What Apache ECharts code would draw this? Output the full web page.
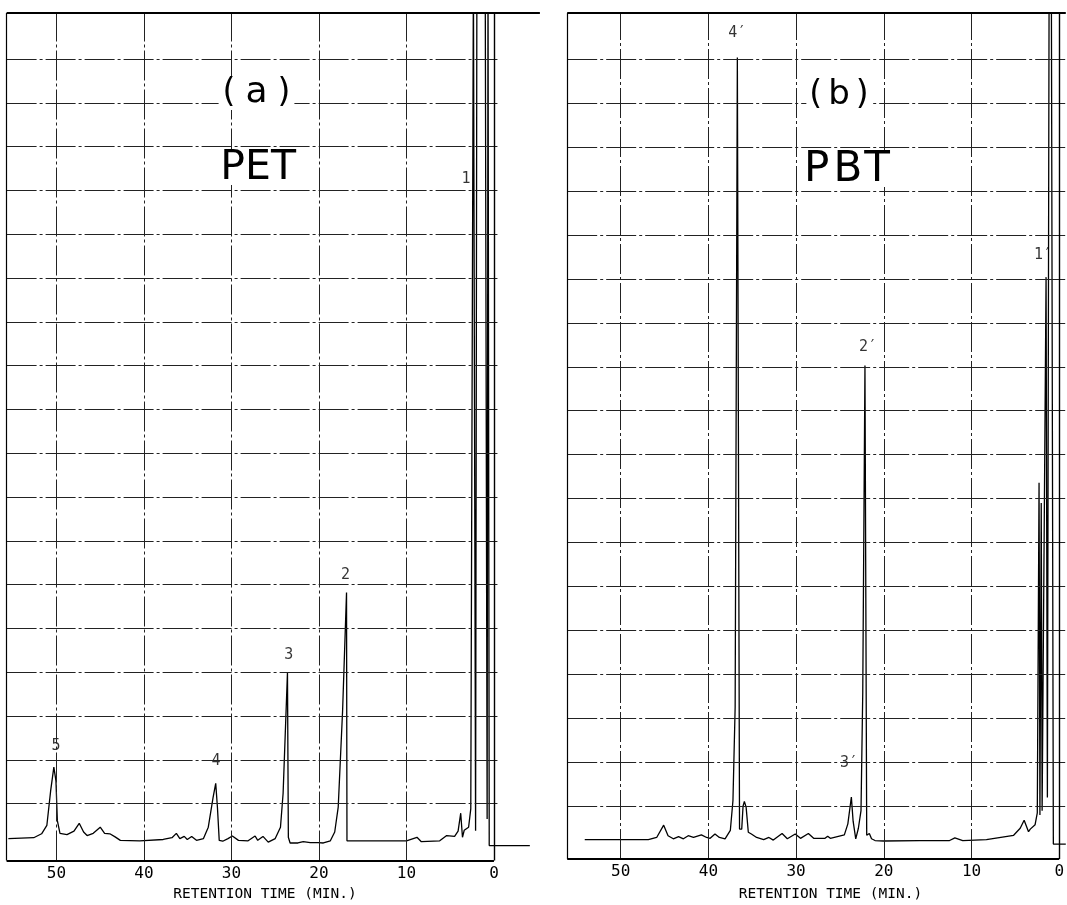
<!DOCTYPE html>
<html><head><meta charset="utf-8">
<script src="https://cdn.jsdelivr.net/npm/echarts@6/dist/echarts.min.js"></script>
<style>html,body{margin:0;padding:0;background:#fff}#c{width:1067px;height:905px}</style>
</head><body><div id="c"></div>
<script>
// ---------- data (retention time in min, detector signal in chart-grid divisions) ----------
const tickLabels = [50, 40, 30, 20, 10, 0];
const gridLevels = [0, 1, 2, 3, 4, 5, 6, 7, 8, 9, 10, 11, 12, 13, 14, 15, 16, 17];

const petTime = [55.5, 52.6, 51.7, 51.1, 50.66, 50.3, 50.06, 49.9, 49.6, 48.8, 48.0, 47.4, 46.9, 46.5, 45.8, 45.0, 44.5, 43.9, 43.3, 42.7, 40.5, 37.8, 36.8, 36.3, 35.9, 35.4, 35.05, 34.55, 34.0, 33.2, 32.65, 32.1, 31.8, 31.6, 31.4, 31.0, 30.4, 29.9, 29.2, 28.1, 27.3, 27.0, 26.4, 25.8, 25.0, 24.4, 24.1, 23.6, 23.5, 23.3, 22.4, 21.8, 21.0, 20.1, 19.5, 18.7, 18.2, 17.8, 17.3, 16.85, 16.8, 16.65, 10.0, 8.8, 8.3, 6.2, 5.4, 4.5, 4.1, 3.8, 3.6, 3.4, 2.9, 2.65, 2.35, 2.1, 1.95, 1.0, 0.78, 0.68, 0.6, 0.54, -4.1];
const petSignal = [-0.80, -0.78, -0.69, -0.50, 0.30, 0.83, 0.52, -0.39, -0.68, -0.71, -0.63, -0.45, -0.65, -0.73, -0.68, -0.54, -0.68, -0.69, -0.76, -0.84, -0.85, -0.82, -0.78, -0.68, -0.80, -0.75, -0.82, -0.75, -0.84, -0.80, -0.54, 0.14, 0.46, -0.10, -0.84, -0.86, -0.80, -0.74, -0.84, -0.85, -0.74, -0.84, -0.75, -0.88, -0.80, -0.54, 0.23, 2.99, -0.77, -0.90, -0.90, -0.87, -0.89, -0.89, -0.90, -0.85, -0.65, -0.08, 2.12, 4.82, -0.85, -0.87, -0.85, -0.77, -0.87, -0.85, -0.73, -0.75, -0.63, -0.22, -0.77, -0.61, -0.54, -0.12, 19, -0.62, 19, 19, -0.35, 19, 19, -0.96, -0.96];

const pbtTime = [54.1, 46.85, 45.9, 45.1, 44.6, 44.0, 43.4, 42.85, 42.3, 41.7, 40.8, 40.2, 39.8, 39.25, 38.75, 38.1, 37.5, 37.2, 36.95, 36.7, 36.45, 36.2, 36.05, 35.9, 35.7, 35.45, 35.1, 34.5, 33.7, 33.1, 32.6, 31.6, 31.0, 30.1, 29.5, 28.6, 28.0, 26.7, 26.4, 26.1, 24.5, 24.1, 23.7, 23.5, 23.2, 22.9, 22.6, 22.4, 22.15, 21.95, 21.65, 21.4, 21.0, 20.0, 15.9, 12.5, 11.9, 11.0, 8.3, 5.2, 4.45, 4.0, 3.5, 3.3, 2.75, 2.5, 2.3, 2.2, 2.05, 1.95, 1.5, 1.35, 1.15, 0.9, 0.67, -0.75];
const pbtSignal = [-0.76, -0.76, -0.71, -0.43, -0.67, -0.74, -0.69, -0.74, -0.67, -0.71, -0.65, -0.71, -0.73, -0.63, -0.71, -0.74, -0.55, 0.13, 2.26, 17.04, -0.52, -0.52, 0.0, 0.11, -0.02, -0.59, -0.63, -0.71, -0.76, -0.71, -0.77, -0.62, -0.74, -0.63, -0.73, -0.62, -0.73, -0.73, -0.68, -0.73, -0.65, -0.40, 0.21, -0.34, -0.74, -0.50, -0.10, 2.6, 10.03, -0.66, -0.62, -0.74, -0.78, -0.79, -0.78, -0.78, -0.72, -0.78, -0.76, -0.66, -0.50, -0.32, -0.58, -0.52, -0.42, -0.15, 7.36, -0.2, 6.9, -0.1, 12.04, 0.2, 19, 19, -0.86, -0.86];

const petPeakNames = ['5', '4', '3', '2', '1'];
const petPeakTime = [50.06, 31.77, 23.45, 16.97, 3.2];
const petPeakLevel = [1.31, 0.96, 3.40, 5.21, 14.26];

const pbtPeakNames = ['4′', '3′', '2′', '1′'];
const pbtPeakTime = [36.7, 23.97, 21.8, 1.85];
const pbtPeakLevel = [17.6, 0.99, 10.45, 12.54];

const axisTitle = 'RETENTION TIME (MIN.)';
const panelNames = ['(a)', '(b)'];
const polymerNames = ['PET', 'PBT'];

// ---------- layout ----------
const panels = [
  { xMin: -5.25, xMax: 55.7, yMin: -1.3, yMax: 18.05, hEnd: -0.4,
    grid: { left: 6.6, right: 527.1, top: 13, bottom: 44.5 },
    time: petTime, signal: petSignal, names: petPeakNames, pt: petPeakTime, pl: petPeakLevel },
  { xMin: -0.75, xMax: 56.1, yMin: -1.2, yMax: 18.05, hEnd: -0.75,
    grid: { left: 567.2, right: 1.2, top: 13, bottom: 46 },
    time: pbtTime, signal: pbtSignal, names: pbtPeakNames, pt: pbtPeakTime, pl: pbtPeakLevel }
];

const gridStyle = { color: '#222', width: 1, type: [30, 3, 3, 3] };
const monoFont = "'DejaVu Sans Mono', 'Liberation Mono', monospace";

const option = {
  animation: false,
  backgroundColor: '#fff',
  grid: panels.map(p => Object.assign({ containLabel: false, outerBoundsMode: 'none' }, p.grid)),
  xAxis: panels.map((p, i) => ({
    gridIndex: i, type: 'value', inverse: true, min: p.xMin, max: p.xMax,
    axisLine: { show: false }, axisTick: { show: false }, splitLine: { show: false },
    axisLabel: {
      customValues: tickLabels, margin: 5, color: '#000', fontFamily: monoFont, fontSize: 16,
      formatter: v => (tickLabels.indexOf(v) >= 0 ? String(v) : '')
    }
  })),
  yAxis: panels.map((p, i) => ({ gridIndex: i, type: 'value', min: p.yMin, max: p.yMax, show: false })),
  series: [],
  graphic: []
};

panels.forEach((p, i) => {
  const hLines = gridLevels.map(l => [{ coord: [p.xMax, l] }, { coord: [p.hEnd, l] }]);
  const vLines = tickLabels.map(t => [
    t === 0 ? { coord: [t, p.yMin], lineStyle: { color: '#000', width: 1.4, type: 'solid' } } : { coord: [t, p.yMin] },
    { coord: [t, p.yMax] }
  ]);
  option.series.push({
    type: 'line', xAxisIndex: i, yAxisIndex: i, data: [[p.xMax, p.yMin]], showSymbol: false, symbolSize: 0,
    lineStyle: { width: 0 }, silent: true, clip: false, z: 1,
    markLine: { silent: true, symbol: ['none', 'none'], label: { show: false }, animation: false,
      lineStyle: gridStyle, data: hLines.concat(vLines) }
  });
  option.series.push({
    type: 'line', xAxisIndex: i, yAxisIndex: i, data: [[p.xMax, p.yMin]], showSymbol: false, symbolSize: 0,
    lineStyle: { width: 0 }, silent: true, clip: false, z: 2,
    markLine: { silent: true, symbol: ['none', 'none'], label: { show: false }, animation: false,
      lineStyle: { color: '#000', width: 2, type: 'solid' },
      data: [
        [{ coord: [p.xMax, p.yMin] }, { coord: [0, p.yMin] }],
        [{ coord: [p.xMax, p.yMin], lineStyle: { color: '#000', width: 1.2, type: 'solid' } }, { coord: [p.xMax, p.yMax] }],
        [{ coord: [p.xMax, p.yMax] }, { coord: [p.xMin, p.yMax] }]
      ] }
  });
  option.series.push({
    type: 'line', xAxisIndex: i, yAxisIndex: i, name: polymerNames[i],
    data: p.time.map((t, k) => [t, p.signal[k]]),
    showSymbol: false, symbol: 'none', clip: true, z: 3,
    lineStyle: { color: '#000', width: 1.3 }
  });
  option.series.push({
    type: 'scatter', xAxisIndex: i, yAxisIndex: i, symbolSize: 0, z: 4, silent: true,
    data: p.names.map((n, k) => ({ name: n, value: [p.pt[k], p.pl[k]] })),
    label: { show: true, position: 'inside', formatter: q => q.name, color: '#000', fontFamily: monoFont, fontSize: 15 }
  });
});

const titleFont = "'DejaVu Sans', 'Noto Sans', sans-serif";
function txt(x, y, text, extra) {
  return Object.assign({
    type: 'text', x: x, y: y, z: 100, silent: true,
    style: Object.assign({ text: text, fill: '#000', align: 'center', verticalAlign: 'middle',
      textAlign: 'center', textVerticalAlign: 'middle' }, extra)
  });
}
option.graphic = [
  txt(256.5, 93, '{p|(}{a|a}{p|)}', { backgroundColor: '#fff', fontFamily: titleFont,
    rich: { p: { fontSize: 33, fontFamily: titleFont, padding: [0, 4], lineHeight: 34 },
            a: { fontSize: 36, fontFamily: titleFont, padding: [0, 6], lineHeight: 34 } } }),
  txt(258.2, 168, polymerNames[0], { backgroundColor: '#fff', padding: [0, 2], fontSize: 41, lineHeight: 34, fontFamily: titleFont }),
  txt(839, 95, '{p|(}{a|b}{p|)}', { backgroundColor: '#fff', fontFamily: titleFont,
    rich: { p: { fontSize: 33, fontFamily: titleFont, padding: [0, 3], lineHeight: 34 },
            a: { fontSize: 34, fontFamily: titleFont, padding: [0, 3], lineHeight: 34 } } }),
  txt(846, 170, '{l|P}{l|B}{t|T}', { backgroundColor: '#fff', fontFamily: titleFont,
    rich: { l: { fontSize: 42, fontFamily: titleFont, padding: [0, 2, 0, 2], lineHeight: 34 },
            t: { fontSize: 42, fontFamily: titleFont, lineHeight: 34 } } }),
  txt(265, 894, axisTitle, { fontSize: 14.5, fontFamily: monoFont }),
  txt(830.5, 894, axisTitle, { fontSize: 14.5, fontFamily: monoFont })
];

const chart = echarts.init(document.getElementById('c'), null, { renderer: 'canvas' });
chart.setOption(option);
</script>
</body></html>
